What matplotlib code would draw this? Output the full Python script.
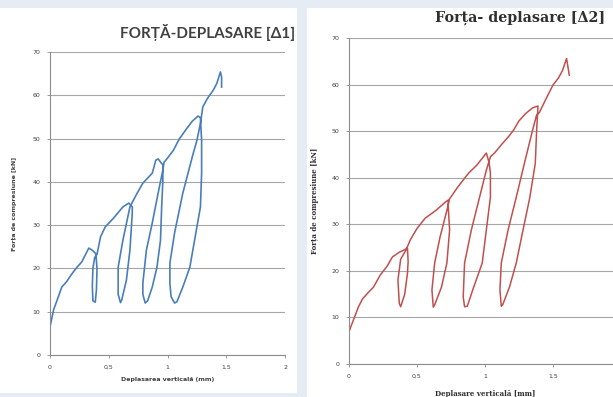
import matplotlib.pyplot as plt
from matplotlib.patches import Rectangle

# left chart (Δ1) - force vs displacement, cyclic loading
left_x = [0, 0.03, 0.07, 0.1, 0.14, 0.19, 0.23, 0.27, 0.3, 0.33, 0.36, 0.39,
          0.40, 0.395, 0.385, 0.365, 0.36, 0.365, 0.38, 0.40,
          0.43, 0.47, 0.54, 0.62, 0.67, 0.70,
          0.70, 0.68, 0.65, 0.61, 0.60, 0.58, 0.58, 0.62, 0.68, 0.71,
          0.75, 0.79, 0.87, 0.90, 0.92, 0.96,
          0.96, 0.95, 0.94, 0.91, 0.87, 0.83, 0.81, 0.79, 0.79, 0.82, 0.87, 0.92, 0.96, 0.97,
          1.0, 1.05, 1.1, 1.16, 1.21, 1.26, 1.28,
          1.29, 1.29, 1.28, 1.23, 1.19, 1.13, 1.08, 1.06, 1.03, 1.02, 1.02, 1.06, 1.13, 1.21, 1.25, 1.28, 1.3,
          1.34, 1.39, 1.42, 1.45, 1.46, 1.46]
left_y = [6.5, 10.4, 13.4, 15.7, 16.9, 18.9, 20.3, 21.5, 23.1, 24.7, 24.2, 23.4,
          20, 15, 12.2, 12.5, 16, 20, 22.5, 23.3,
          27.3, 29.6, 31.6, 34.2, 35.1, 34.2,
          32.8, 24.2, 17.3, 12.7, 12.1, 14, 20.3, 26.5, 34.2, 35.8,
          37.8, 39.7, 42, 45, 45.3, 43.9,
          40, 34.2, 26.5, 20.3, 15.7, 12.5, 12, 14, 16.6, 24.2, 30.5, 37.4, 42.7, 44.5,
          45.5, 47.3, 49.9, 52.2, 54, 55.2, 54.8,
          49.6, 42, 34.2, 26.5, 20.3, 15.7, 12.3, 12, 13.5, 16.6, 21.2, 28.2, 37.4, 45.7, 49.6, 53.5, 57.3,
          59.3, 61.2, 62.8, 65.4, 64.2, 61.9]

# right chart (Δ2)
right_x = [0, 0, 0.02, 0.04, 0.07, 0.1, 0.14, 0.18, 0.23, 0.28, 0.32, 0.37, 0.42, 0.43,
           0.435, 0.43, 0.41, 0.38, 0.37, 0.36, 0.38, 0.42,
           0.45, 0.5, 0.56, 0.64, 0.71, 0.73,
           0.73, 0.74, 0.72, 0.68, 0.63, 0.62, 0.61, 0.63, 0.67, 0.72, 0.74,
           0.76, 0.8, 0.88, 0.94, 1.01, 1.03,
           1.04, 1.04, 1.01, 0.98, 0.91, 0.87, 0.85, 0.84, 0.85, 0.9, 0.96, 1.01, 1.04,
           1.07, 1.13, 1.17, 1.21, 1.25, 1.3, 1.35, 1.39,
           1.38, 1.37, 1.33, 1.28, 1.23, 1.18, 1.13, 1.12, 1.11, 1.12, 1.17, 1.23, 1.29, 1.35, 1.38, 1.4,
           1.45, 1.5, 1.54, 1.57, 1.6, 1.62]
right_y = [0, 6.9, 8.5, 10, 12.3, 14, 15.3, 16.5, 19.1, 21, 23, 24, 24.7, 24.9,
           22, 19.5, 15, 12.3, 13, 18, 22.5, 24.5,
           26.6, 29.1, 31.3, 33, 34.8, 35.2,
           33.7, 28.8, 21.7, 16.5, 12.7, 12.2, 15.9, 21.7, 27.3, 33, 35.5,
           36.3, 38, 41, 42.7, 45.3, 43.3,
           41, 35.8, 28.8, 21.7, 15.9, 12.4, 12.3, 14.4, 21.7, 28.8, 35.8, 41.6, 44.5,
           45.3, 47.4, 48.7, 50.2, 52.2, 53.8, 55, 55.4,
           50.2, 43.1, 35.8, 28.8, 21.7, 16.5, 12.7, 12.4, 15.9, 21.7, 28.8, 35.8, 43.1, 50.2, 53.5, 54,
           57, 59.9, 61.4, 63, 65.6, 62]

yticks = [0, 10, 20, 30, 40, 50, 60, 70]
xticks = [0, 0.5, 1, 1.5, 2]
xticklabels = ['0', '0,5', '1', '1,5', '2']

fig = plt.figure(figsize=(6.13, 3.97), dpi=100)
fig.patch.set_facecolor('#e6ecf4')

# white panels behind the two charts
fig.add_artist(Rectangle((0, 0.0101), 0.4845, 0.9697, transform=fig.transFigure,
                         facecolor='white', edgecolor='none', zorder=0))
fig.add_artist(Rectangle((0.5008, 0), 0.5, 0.9798, transform=fig.transFigure,
                         facecolor='white', edgecolor='none', zorder=0))


def style_axes(ax, labels):
    ax.set_facecolor('none')
    ax.set_xlim(0, 2)
    ax.set_ylim(0, 70)
    ax.set_yticks(yticks)
    ax.set_xticks(xticks)
    ax.set_xticklabels(labels)
    ax.grid(axis='y', color='#a6a6a6', linewidth=0.8)
    ax.set_axisbelow(True)
    for s in ['top', 'right']:
        ax.spines[s].set_visible(False)
    for s in ['left', 'bottom']:
        ax.spines[s].set_color('#8c8c8c')
        ax.spines[s].set_linewidth(0.8)
    ax.tick_params(length=2, width=0.6, color='#8c8c8c', labelsize=4.5,
                   labelcolor='#404040', pad=5)


ax1 = fig.add_axes([0.0816, 0.1058, 0.3834, 0.7632])
style_axes(ax1, xticklabels)
ax1.plot(left_x, left_y, color='#4a7ebb', linewidth=1.2)
ax1.set_xlabel('Deplasarea verticală (mm)', fontsize=4.5, fontweight='bold',
               color='#404040', labelpad=5)
ax1.set_ylabel('Forța de compresiune [kN]', fontsize=4.5, fontweight='bold',
               color='#404040', labelpad=11)

# right chart runs past the picture's edge, the "2" label is not visible
ax2 = fig.add_axes([0.5693, 0.0831, 0.4437, 0.8212])
style_axes(ax2, xticklabels[:-1] + [''])
ax2.plot(right_x, right_y, color='#c0504d', linewidth=1.1)
ax2.set_xlabel('Deplasare verticală [mm]', fontsize=5, fontweight='bold',
               family='DejaVu Serif', color='#303030', labelpad=8)
ax2.set_ylabel('Forța de compresiune [kN]', fontsize=5, fontweight='bold',
               family='DejaVu Serif', color='#303030', labelpad=9)

fig.text(0.481, 0.919, 'FORȚĂ-DEPLASARE [Δ1]', ha='right', va='center',
         fontsize=11, fontweight='bold', family='Lato', color='#404040')
fig.text(0.987, 0.955, 'Forța- deplasare [Δ2]', ha='right', va='center',
         fontsize=10.3, fontweight='bold', family='DejaVu Serif', color='#303030')

fig.savefig('out.png', dpi=100, facecolor=fig.get_facecolor())
